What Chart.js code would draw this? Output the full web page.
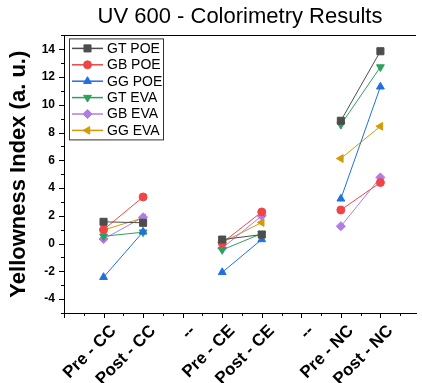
<!DOCTYPE html>
<html>
<head>
<meta charset="utf-8">
<script src="https://cdn.jsdelivr.net/npm/chart.js@4.4.0/dist/chart.umd.min.js"></script>
<style>
body { margin: 0; background: #fff; }
#wrap { width: 422px; height: 383px; }
</style>
</head>
<body>
<div id="wrap"><canvas id="myChart" width="422" height="383"></canvas></div>
<script>
// x positions 1..8, "--" are just spacers
var xLabels = ["", "Pre - CC", "Post - CC", "--", "Pre - CE", "Post - CE", "--", "Pre - NC", "Post - NC"];
var yTicks = [-4, -2, 0, 2, 4, 6, 8, 10, 12, 14];

var seriesNames = ["GT POE", "GB POE", "GG POE", "GT EVA", "GB EVA", "GG EVA"];
var gtPoe = [1.57, 1.5, null, 0.29, 0.65, null, 8.85, 13.86];
var gbPoe = [1.0, 3.36, null, 0.05, 2.28, null, 2.42, 4.4];
var ggPoe = [-2.42, 0.85, null, -2.07, 0.3, null, 3.23, 11.3];
var gtEva = [0.53, 0.82, null, -0.45, 0.72, null, 8.57, 12.72];
var gbEva = [0.33, 1.9, null, -0.33, 2.0, null, 1.25, 4.77];
var ggEva = [0.98, 1.85, null, 0.08, 1.52, null, 6.13, 8.45];

var colors = ["#4d4d4d", "#f04545", "#2070e0", "#2ea05e", "#b07ce6", "#d49b08"];
var markers = [["rect", 0, 5], ["circle", 0, 4], ["triangle", 0, 4.5], ["triangle", 180, 4.5], ["rectRot", 0, 4.5], ["triangle", -90, 4.5]];

var FONT = "Arial, 'Liberation Sans', sans-serif";

function toPoints(vals) {
    return vals.map(function(v, i) { return {x: i + 1, y: v}; });
}

var allValues = [gtPoe, gbPoe, ggPoe, gtEva, gbEva, ggEva];
var datasets = [];
for (var i = 0; i < allValues.length; i++) {
    datasets.push({
        label: seriesNames[i],
        data: toPoints(allValues[i]),
        borderColor: colors[i],
        backgroundColor: colors[i],
        pointBackgroundColor: colors[i],
        pointBorderColor: colors[i],
        borderWidth: 1,
        pointStyle: markers[i][0],
        pointRotation: markers[i][1],
        pointRadius: markers[i][2],
        pointBorderWidth: 1,
        spanGaps: false,
        tension: 0
    });
}

// ticks (major + minor) and top frame line
var frameTicks = {
    id: "frameTicks",
    afterDraw: function(chart) {
        var ctx = chart.ctx, a = chart.chartArea;
        var xs = chart.scales.x, ys = chart.scales.y;
        ctx.save();
        ctx.strokeStyle = "#000";
        ctx.lineWidth = 1;
        ctx.beginPath();
        for (var v = 0; v <= 8.5; v += 0.5) {
            var px = Math.round(xs.getPixelForValue(v)) + 0.5;
            var len = (v % 1 === 0) ? 5 : 3;
            ctx.moveTo(px, a.bottom);
            ctx.lineTo(px, a.bottom + len);
        }
        for (var w = -5; w <= 15; w++) {
            var py = Math.round(ys.getPixelForValue(w)) + 0.5;
            var l = (w % 2 === 0) ? 5 : 3;
            ctx.moveTo(a.left, py);
            ctx.lineTo(a.left - l, py);
        }
        ctx.moveTo(a.left, Math.round(a.top) + 0.5);
        ctx.lineTo(a.right, Math.round(a.top) + 0.5);
        ctx.stroke();
        ctx.restore();
    }
};

// legend box in upper left of plot
var boxLegend = {
    id: "boxLegend",
    afterDraw: function(chart) {
        var ctx = chart.ctx, a = chart.chartArea;
        var bx = a.left + 5.5, by = a.top + 3.5, bw = 94, bh = 101;
        ctx.save();
        ctx.strokeStyle = "#333";
        ctx.lineWidth = 1;
        ctx.strokeRect(bx, by, bw, bh);
        ctx.font = "14px " + FONT;
        ctx.textBaseline = "middle";
        ctx.fillStyle = "#000";
        chart.data.datasets.forEach(function(ds, k) {
            var yy = by + 9.5 + k * 16.4;
            ctx.strokeStyle = ds.borderColor;
            ctx.lineWidth = 1.5;
            ctx.beginPath();
            ctx.moveTo(bx + 2.5, yy);
            ctx.lineTo(bx + 33.5, yy);
            ctx.stroke();
            ctx.fillStyle = ds.pointBackgroundColor;
            ctx.strokeStyle = ds.pointBorderColor;
            ctx.lineWidth = 1;
            Chart.helpers.drawPoint(ctx, {pointStyle: ds.pointStyle, rotation: ds.pointRotation, radius: ds.pointRadius, borderWidth: 1}, bx + 18, yy);
            ctx.fillStyle = "#000";
            ctx.fillText(ds.label, bx + 37.5, yy + 0.5);
        });
        ctx.restore();
    }
};

window.onload = function() {
    var ctx = document.getElementById("myChart");
    var myChart = new Chart(ctx, {
        type: "line",
        data: { datasets: datasets },
        plugins: [frameTicks, boxLegend],
        options: {
            responsive: false,
            animation: false,
            devicePixelRatio: 1,
            layout: { padding: 0 },
            plugins: {
                legend: { display: false },
                tooltip: { enabled: false },
                title: {
                    display: true,
                    text: "UV 600 - Colorimetry Results",
                    color: "#000",
                    fullSize: false,
                    font: { family: FONT, size: 22, weight: "normal" },
                    padding: { top: 4, bottom: 5 }
                }
            },
            scales: {
                x: {
                    type: "linear",
                    min: 0,
                    max: 8.9,
                    grid: { display: false, drawTicks: false },
                    border: { display: true, color: "#000", width: 1 },
                    afterBuildTicks: function(scale) {
                        scale.ticks = [1, 2, 3, 4, 5, 6, 7, 8].map(function(v) { return {value: v}; });
                    },
                    afterFit: function(scale) {
                        scale.height = 70;
                        scale.paddingLeft = 0;
                        scale.paddingRight = 0;
                    },
                    ticks: {
                        autoSkip: false,
                        minRotation: 45,
                        maxRotation: 45,
                        padding: 8,
                        labelOffset: 10,
                        color: "#000",
                        font: { family: FONT, size: 17, weight: "bold" },
                        callback: function(v) { return xLabels[v]; }
                    }
                },
                y: {
                    min: -5,
                    max: 15,
                    grid: { display: false, drawTicks: false },
                    border: { display: true, color: "#000", width: 1 },
                    afterBuildTicks: function(scale) {
                        scale.ticks = yTicks.map(function(v) { return {value: v}; });
                    },
                    afterFit: function(scale) {
                        scale.width = 64;
                    },
                    title: {
                        display: true,
                        text: "Yellowness Index (a. u.)",
                        color: "#000",
                        font: { family: FONT, size: 22, weight: "bold" },
                        padding: { top: 6, bottom: 0 }
                    },
                    ticks: {
                        padding: 9,
                        color: "#000",
                        font: { family: FONT, size: 12, weight: "bold" }
                    }
                }
            }
        }
    });
};
</script>
</body>
</html>
